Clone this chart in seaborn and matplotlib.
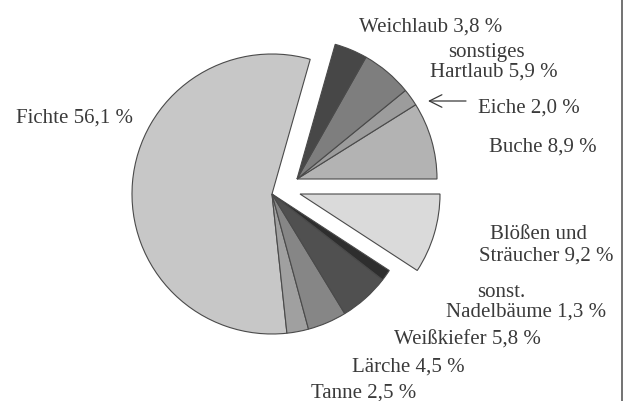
import matplotlib
matplotlib.use("Agg")
import matplotlib.pyplot as plt
from matplotlib.lines import Line2D
import seaborn as sns

# Anteile der Waldfläche nach Baumarten (in %), gegen den Uhrzeigersinn ab 3 Uhr
arten = ["Buche", "Eiche", "sonstiges Hartlaub", "Weichlaub", "Fichte",
         "Tanne", "Lärche", "Weißkiefer", "sonst. Nadelbäume", "Blößen und Sträucher"]
anteile = [8.9, 2.0, 5.9, 3.8, 56.1, 2.5, 4.5, 5.8, 1.3, 9.2]
grautoene = ["#b3b3b3", "#9c9c9c", "#7e7e7e", "#474747", "#c7c7c7",
             "#a0a0a0", "#868686", "#505050", "#2e2e2e", "#dadada"]

# herausgezogene Gruppen: Laubbäume und Blößen
laub = ["Buche", "Eiche", "sonstiges Hartlaub", "Weichlaub"]
bloessen = ["Blößen und Sträucher"]

W, H = 628, 402
mitte = (272, H - 195)
radius = 140
versatz = {"laub": (25, 15), "bloessen": (28, 0)}

# Position der Beschriftungen (Mitte x, Grundlinie y von oben), je Zeile
label_pos = {
    "Buche": [(543, 152)],
    "Eiche": [(529, 113)],
    "sonstiges Hartlaub": [(486, 57), (494, 77)],
    "Weichlaub": [(431, 32)],
    "Fichte": [(74, 123)],
    "Tanne": [(364, 398)],
    "Lärche": [(408, 372)],
    "Weißkiefer": [(467, 345)],
    "sonst. Nadelbäume": [(501, 297), (526, 317)],
    "Blößen und Sträucher": [(539, 239), (546, 261)],
}

sns.set_theme(style="white")
plt.rcParams["font.family"] = ["Liberation Serif", "DejaVu Serif"]

fig = plt.figure(figsize=(W / 100, H / 100), dpi=100)
ax = fig.add_axes([0, 0, 1, 1])

wedges, _ = ax.pie(anteile, colors=grautoene, startangle=0, counterclock=True,
                   center=mitte, radius=radius,
                   wedgeprops=dict(edgecolor="#4a4a4a", linewidth=0.8))

for w, art in zip(wedges, arten):
    if art in laub:
        dx, dy = versatz["laub"]
    elif art in bloessen:
        dx, dy = versatz["bloessen"]
    else:
        continue
    w.set_center((mitte[0] + dx, mitte[1] + dy))

textfarbe = "#3a3a3a"
for art, wert in zip(arten, anteile):
    wert_txt = f"{wert:.1f} %".replace(".", ",")
    pos = label_pos[art]
    worte = art.split(" ")
    if len(pos) == 1:
        zeilen = [f"{art} {wert_txt}"]
    else:
        zeilen = [" ".join(worte[:-1]), f"{worte[-1]} {wert_txt}"]
    for z, (x, y) in zip(zeilen, pos):
        ax.text(x, H - y, z, ha="center", va="baseline", fontsize=15, color=textfarbe)

# Pfeil zur Eiche
ax.annotate("", xy=(428, H - 102), xytext=(466, H - 102),
            arrowprops=dict(arrowstyle="->,head_length=0.6,head_width=0.3",
                            lw=0.9, color=textfarbe, mutation_scale=15,
                            shrinkA=0, shrinkB=0))

ax.set_xlim(0, W)
ax.set_ylim(0, H)
ax.set_aspect("equal")
ax.axis("off")

# Rahmenlinie rechts
fig.add_artist(Line2D([622 / W, 622 / W], [0, 1], color="#5a5a5a", lw=1.2,
                      transform=fig.transFigure))

fig.savefig("out.png", dpi=100, facecolor="white")
